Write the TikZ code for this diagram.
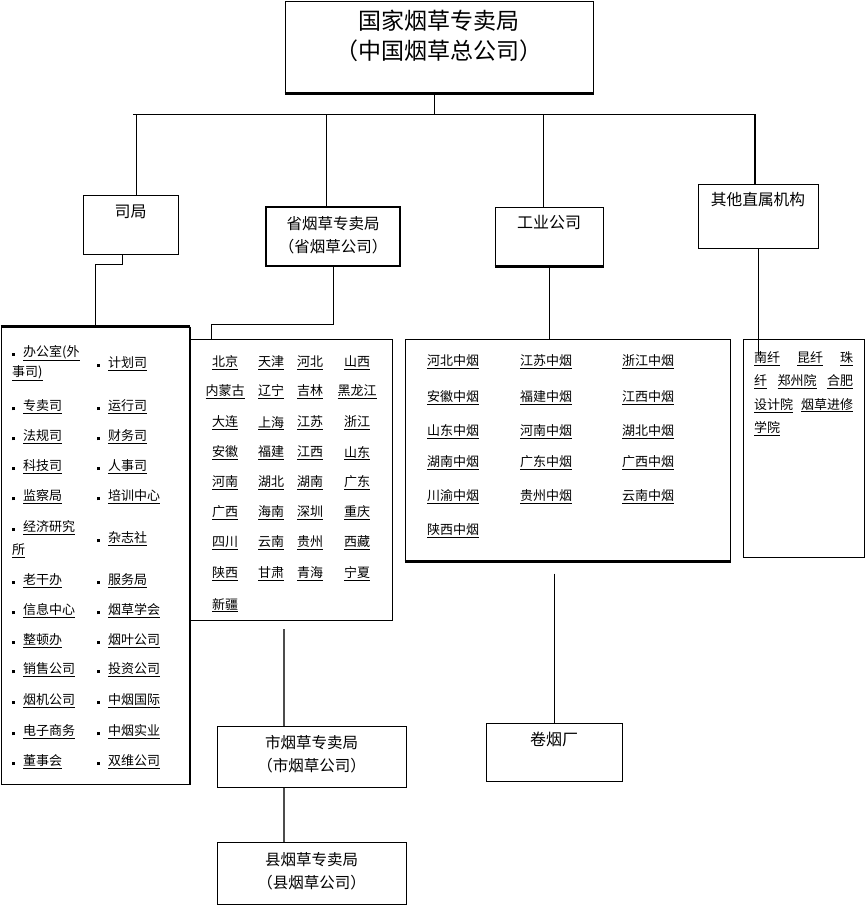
\documentclass[tikz,border=0pt]{standalone}
\usepackage{fontspec}
\newfontfamily\cjk{Noto Sans CJK SC}
\usetikzlibrary{positioning}
\tikzset{box/.style={draw,line width=1pt,inner sep=0pt},
         heavy/.style={line width=2.5pt},
         conn/.style={line width=1pt},
         lbl/.style={font=\cjk\fontsize{16}{23}\selectfont,align=center,inner sep=0pt},
         item/.style={font=\cjk\fontsize{13}{20}\selectfont,anchor=west,align=left,inner sep=0pt},
         pitem/.style={font=\cjk\fontsize{13}{20}\selectfont,inner sep=0pt}
}
\newcommand\itemsq{\rule[0.7pt]{3pt}{3pt}\hspace{8pt}}
\begin{document}
\begin{tikzpicture}[x=1pt,y=-1pt]
\useasboundingbox (0,0) rectangle (866,906);

% boxes
\node[box,minimum width=308pt,minimum height=92pt] (ju) at (439,47) {};
\node[box,minimum width=95pt,minimum height=59pt] (siju) at (130.5,224.5) {};
\node[box,line width=2pt,minimum width=134pt,minimum height=59pt] (sheng) at (333,236.5) {};
\node[box,minimum width=108pt,minimum height=59pt] (gongye) at (549,236.5) {};
\node[box,minimum width=120pt,minimum height=64pt] (qita) at (758,216) {};
\node[box,minimum width=188pt,minimum height=457pt] (silist) at (95,555.5) {};
\node[box,minimum width=202pt,minimum height=281pt] (prov) at (291,479.5) {};
\node[box,minimum width=325pt,minimum height=222pt] (ind) at (567.5,450) {};
\node[box,minimum width=121pt,minimum height=218pt] (oth) at (803.5,448) {};
\node[box,minimum width=189pt,minimum height=61pt] (shi) at (311.5,756.5) {};
\node[box,minimum width=189pt,minimum height=62pt] (xian) at (311.5,873) {};
\node[box,minimum width=136pt,minimum height=58pt] (juan) at (554,752) {};
\draw[heavy] (ju.south west) -- (ju.south east);
\draw[heavy] (gongye.south west) -- (gongye.south east);
\draw[heavy] (ind.south west) -- (ind.south east);
\draw[heavy] (silist.north west) -- (silist.north east);
\draw[line width=2pt] (silist.north east) -- (silist.south east);

% box labels
\node[lbl,font=\cjk\fontsize{23}{30}\selectfont,below=9.5pt of ju.north] (jutxt) {国家烟草专卖局\\（中国烟草总公司）};
\node[lbl,below=10pt of siju.north] (sijutxt) {司局};
\node[lbl,font=\cjk\fontsize{15.5}{23}\selectfont,below=10pt of sheng.north] (shengtxt) {省烟草专卖局\\（省烟草公司）};
\node[lbl,below=9pt of gongye.north] (gongyetxt) {工业公司};
\node[lbl,font=\cjk\fontsize{15.7}{23}\selectfont,below=9pt of qita.north] (qitatxt) {其他直属机构};
\node[lbl,font=\cjk\fontsize{15.5}{23}\selectfont,below=9.3pt of shi.north] (shitxt) {市烟草专卖局\\（市烟草公司）};
\node[lbl,font=\cjk\fontsize{15.5}{23}\selectfont,below=10.3pt of xian.north] (xiantxt) {县烟草专卖局\\（县烟草公司）};
\node[lbl,below=9pt of juan.north] (juantxt) {卷烟厂};

% connectors
\coordinate (b0) at (434,114);
\coordinate (b1) at (136,114);
\coordinate (b2) at (326,114);
\coordinate (b3) at (543,114);
\coordinate (b4) at (755,114);
\draw[conn] (b0) -- (b0 |- ju.south);
\draw[conn] ([xshift=-3pt]b1) -- (b4);
\draw[conn] (b1) -- (b1 |- siju.north);
\draw[conn] (b2) -- (b2 |- sheng.north);
\draw[conn] (b3) -- (b3 |- gongye.north);
\draw[line width=2pt] (b4) -- (b4 |- qita.north);
\coordinate (k1) at (95,264);
\draw[conn] ([xshift=-8pt]siju.south) |- (k1) -- (k1 |- silist.north);
\coordinate (k2) at (211,324);
\draw[conn] (sheng.south) |- (k2) -- (k2 |- prov.north);
\draw[conn] (gongye.south) -- (gongye.south |- ind.north);
\draw[conn] (qita.south) -- ([yshift=-16pt]qita.south |- oth.north);
\coordinate (k3) at (284,629);
\draw[line width=1.8pt,black!70] (k3) -- (k3 |- shi.north);
\draw[line width=1.8pt,black!70] (k3 |- shi.south) -- (k3 |- xian.north);
\draw[conn] ([yshift=-12pt]juan.north |- ind.south) -- (juan.north);

% offices
\node[item] (sa1) at (12,363) {\itemsq\underline{办公室(外}\\\underline{事司)}};
\node[item] (sb1) at (97,364) {\itemsq\underline{计划司}};
\node[item] (sa6) at (12,539) {\itemsq\underline{经济研究}\\[3pt]\underline{所}};
\node[item] (sb6) at (97,539) {\itemsq\underline{杂志社}};
\foreach \ya/\na/\nb in {407/专卖司/运行司,437/法规司/财务司,467/科技司/人事司,497/监察局/培训中心,
  581/老干办/服务局,611/信息中心/烟草学会,641/整顿办/烟叶公司,670/销售公司/投资公司,
  701/烟机公司/中烟国际,732/电子商务/中烟实业,762/董事会/双维公司}{
  \node[item] (sa\ya) at (12,\ya) {\itemsq\underline{\na}};
  \node[item] (sb\ya) at (97,\ya) {\itemsq\underline{\nb}};
}

% provinces
\foreach \ya/\pa/\pb/\pc/\pd in {363/北京/天津/河北/山西,392/内蒙古/辽宁/吉林/黑龙江,423/大连/上海/江苏/浙江,
  453/安徽/福建/江西/山东,483/河南/湖北/湖南/广东,513/广西/海南/深圳/重庆,
  543/四川/云南/贵州/西藏,574/陕西/甘肃/青海/宁夏}{
  \node[pitem] (pa\ya) at (225,\ya) {\underline{\pa}};
  \node[pitem] (pb\ya) at (271,\ya) {\underline{\pb}};
  \node[pitem] (pc\ya) at (310,\ya) {\underline{\pc}};
  \node[pitem] (pd\ya) at (357,\ya) {\underline{\pd}};
}
\node[pitem] (pxj) at (225,605) {\underline{新疆}};

% industrial companies
\foreach \ya/\ia/\ib/\ic in {362/河北中烟/江苏中烟/浙江中烟,398/安徽中烟/福建中烟/江西中烟,
  432/山东中烟/河南中烟/湖北中烟,463/湖南中烟/广东中烟/广西中烟,497/川渝中烟/贵州中烟/云南中烟}{
  \node[item] (ia\ya) at (427,\ya) {\underline{\ia}};
  \node[item] (ib\ya) at (520,\ya) {\underline{\ib}};
  \node[item] (ic\ya) at (622,\ya) {\underline{\ic}};
}
\node[item] (isx) at (427,531) {\underline{陕西中烟}};

% other units
\node[item,font=\cjk\fontsize{13}{23.3}\selectfont,anchor=north west] (othtxt) at (754,351.5)
  {\hbox to 99pt{\underline{南纤}\hfill\underline{昆纤}\hfill\underline{珠}}\\
   \hbox to 99pt{\underline{纤}\hfill\underline{郑州院}\hfill\underline{合肥}}\\
   \hbox to 99pt{\underline{设计院}\hfill\underline{烟草进修}}\\
   \underline{学院}};

\end{tikzpicture}
\end{document}
